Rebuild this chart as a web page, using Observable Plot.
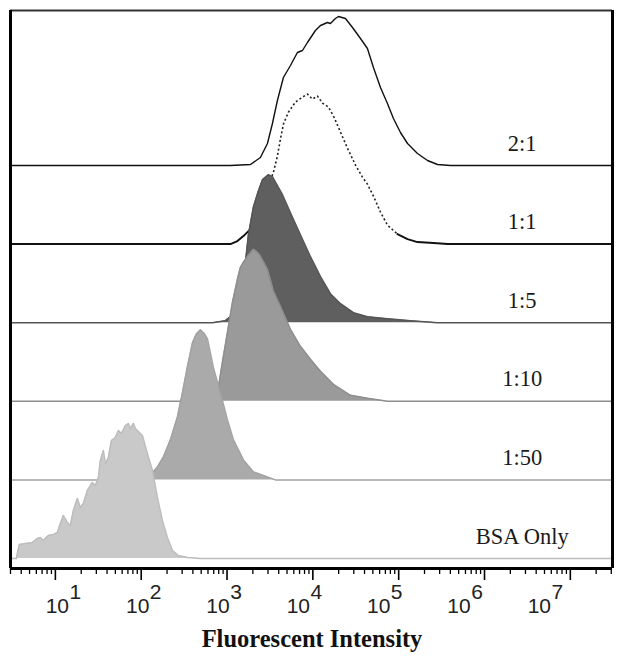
<!DOCTYPE html>
<html>
<head>
<meta charset="utf-8">
<script src="https://cdn.jsdelivr.net/npm/d3@7"></script>
<script src="https://cdn.jsdelivr.net/npm/@observablehq/plot@0.6"></script>
<style>
  body { margin: 0; background: #fff; }
  #wrap { position: relative; width: 624px; height: 663px; background: #fff; }
  #title { position: absolute; left: 0; top: 627px; width: 624px; text-align: center;
           font: bold 24.5px "Liberation Serif", "Times New Roman", serif; line-height: 24px; color: #111; }
</style>
</head>
<body>
<div id="wrap"><div id="chart"></div><div id="title">Fluorescent Intensity</div></div>
<script>
// ---- data: log10(fluorescent intensity) and event counts for each sample ----
const seriesNames = ["2:1", "1:1", "1:5", "1:10", "1:50", "BSA Only"];

const logX_2to1 = [0.476, 3.040, 3.273, 3.389, 3.471, 3.529, 3.587, 3.657, 3.739, 3.820, 3.879, 3.937, 4.030, 4.089, 4.170, 4.205, 4.263, 4.298, 4.380, 4.462, 4.555, 4.636, 4.706, 4.788, 4.869, 4.939, 5.021, 5.103, 5.219, 5.336, 5.452, 5.604, 7.491];
const count_2to1 = [0, 0, 1, 8, 22, 42, 65, 88, 100, 113, 115, 123, 135, 140, 143, 142, 147, 149, 147, 138, 127, 117, 98, 78, 62, 47, 33, 22, 12, 5, 1, 0, 0];

const logX_1to1 = [0.476, 3.040, 3.121, 3.191, 3.273, 3.343, 3.413, 3.483, 3.541, 3.587, 3.622, 3.657, 3.716, 3.797, 3.879, 3.937, 3.995, 4.054, 4.112, 4.182, 4.252, 4.322, 4.403, 4.497, 4.578, 4.636, 4.706, 4.788, 4.869, 4.986, 5.103, 5.219, 5.406, 5.569, 7.491];
const count_1to1 = [0, 0, 3, 8, 15, 27, 42, 58, 72, 88, 105, 120, 132, 142, 147, 150, 145, 148, 141, 137, 126, 112, 96, 79, 67, 60, 48, 32, 19, 10, 5, 2, 1, 0, 0];

const logX_1to5 = [0.476, 2.830, 2.981, 3.098, 3.168, 3.214, 3.249, 3.308, 3.366, 3.413, 3.483, 3.529, 3.587, 3.646, 3.739, 3.855, 3.972, 4.089, 4.205, 4.322, 4.473, 4.636, 4.869, 5.138, 5.452, 7.491];
const count_1to5 = [0, 0, 2, 10, 35, 60, 88, 116, 132, 143, 148, 146, 137, 128, 110, 88, 66, 46, 29, 19, 10, 6, 4, 2, 0, 0];

const logX_1to10 = [0.476, 2.748, 2.842, 2.888, 2.911, 2.946, 3.005, 3.063, 3.121, 3.156, 3.191, 3.249, 3.308, 3.354, 3.389, 3.471, 3.541, 3.622, 3.739, 3.855, 3.972, 4.089, 4.240, 4.438, 4.636, 4.869, 7.491];
const count_1to10 = [0, 0, 2, 8, 20, 39, 69, 99, 122, 134, 139, 146, 152, 149, 145, 132, 110, 95, 72, 55, 42, 30, 17, 6, 3, 0, 0];

const logX_1to50 = [0.476, 1.991, 2.107, 2.189, 2.259, 2.340, 2.422, 2.480, 2.538, 2.597, 2.643, 2.690, 2.737, 2.772, 2.842, 2.923, 3.005, 3.075, 3.191, 3.308, 3.471, 3.564, 7.491];
const count_1to50 = [0, 0, 5, 13, 23, 40, 63, 87, 113, 137, 146, 150, 146, 141, 112, 87, 60, 40, 20, 8, 3, 0, 0];

const logX_bsa = [0.476, 0.545, 0.580, 0.650, 0.732, 0.790, 0.825, 0.860, 0.918, 0.977, 1.023, 1.058, 1.093, 1.140, 1.175, 1.210, 1.256, 1.291, 1.326, 1.373, 1.431, 1.466, 1.501, 1.524, 1.559, 1.583, 1.618, 1.653, 1.699, 1.734, 1.769, 1.816, 1.851, 1.874, 1.909, 1.932, 2.014, 2.072, 2.131, 2.189, 2.247, 2.305, 2.364, 2.434, 2.538, 2.690, 7.491];
const count_bsa = [0, 0, 14, 15, 16, 20, 21, 18, 23, 24, 26, 35, 43, 36, 33, 48, 60, 51, 55, 68, 76, 73, 81, 98, 108, 95, 101, 118, 121, 128, 125, 133, 135, 130, 135, 130, 123, 105, 88, 61, 38, 21, 8, 3, 1, 0, 0];

const majorExponents = [1, 2, 3, 4, 5, 6, 7];

// ---- layout ----
const X_DOMAIN = [3, 3.1e7];
const ROW_BASE = 10, ROW_STEP = 78.6;      // stacked ridgeline offsets (y units)
const LABEL_X = 2.75e6;                    // where the sample names sit

const series = [
  {lx: logX_2to1, c: count_2to1},
  {lx: logX_1to1, c: count_1to1},
  {lx: logX_1to5, c: count_1to5},
  {lx: logX_1to10, c: count_1to10},
  {lx: logX_1to50, c: count_1to50},
  {lx: logX_bsa, c: count_bsa}
].map((s, i) => {
  const base = ROW_BASE + (seriesNames.length - 1 - i) * ROW_STEP;
  return {name: seriesNames[i], base,
          pts: s.lx.map((v, j) => ({lx: v, x: 10 ** v, y: base + s.c[j], base}))};
});

const minorTicks = [];
for (let k = 0; k <= 7; k++) for (let m = 2; m <= 9; m++) {
  const v = m * 10 ** k;
  if (v >= X_DOMAIN[0] && v <= X_DOMAIN[1]) minorTicks.push(v);
}
const majorTicks = majorExponents.map(k => 10 ** k);
// the printed "10^k" labels are spaced a little tighter than the ticks themselves
const labelPos = k => 10 ** (2.45 + (k - 2.45) * 0.936);

const fills = [null, null, "#5f5f5f", "#9a9a9a", "#aaaaaa", "#c9c9c9"];
const edges = [null, null, "#555555", "#8e8e8e", "#a2a2a2", "#bdbdbd"];

const marks = [];
// 2:1 solid line
marks.push(Plot.line(series[0].pts, {x: "x", y: "y", stroke: "#111", strokeWidth: 1.4}));
// 1:1: solid near baseline, dotted over the hump
marks.push(Plot.line(series[1].pts, {filter: d => d.lx <= 3.273, x: "x", y: "y", stroke: "#111", strokeWidth: 2}));
marks.push(Plot.line(series[1].pts, {filter: d => d.lx >= 4.986, x: "x", y: "y", stroke: "#111", strokeWidth: 2}));
marks.push(Plot.line(series[1].pts, {filter: d => d.lx >= 3.273 && d.lx <= 4.986, x: "x", y: "y",
  stroke: "#222", strokeWidth: 1.6, strokeDasharray: "2,2.4", strokeLinecap: "butt"}));
// filled histograms, lower rows on top
for (let i = 2; i < series.length; i++) {
  marks.push(Plot.areaY(series[i].pts, {x: "x", y1: "base", y2: "y", fill: fills[i]}));
  marks.push(Plot.line(series[i].pts, {x: "x", y: "y", stroke: edges[i], strokeWidth: 1.5}));
}
// sample labels
marks.push(Plot.text(series, {x: () => LABEL_X, y: "base", text: "name", dy: -15, lineAnchor: "bottom",
  textAnchor: "middle", fontSize: 22.5, fontFamily: "Liberation Serif, Times New Roman, serif", fill: "#1a1a1a"}));
// frame
marks.push(Plot.ruleY([558], {stroke: "#333", strokeWidth: 2}));
marks.push(Plot.ruleX([X_DOMAIN[0]], {stroke: "#000", strokeWidth: 3}));
marks.push(Plot.ruleX([X_DOMAIN[1]], {stroke: "#000", strokeWidth: 3}));
marks.push(Plot.ruleY([0], {stroke: "#000", strokeWidth: 3}));
// axis ticks
marks.push(Plot.axisX(minorTicks, {tickSize: 6, tickFormat: () => "", strokeWidth: 1.3, label: null}));
marks.push(Plot.axisX(majorTicks, {tickSize: 12, tickFormat: () => "", strokeWidth: 1.6, label: null}));
// tick labels 10^k
const sans = "Liberation Sans Narrow, Arial Narrow, Liberation Sans, Arial, sans-serif";
marks.push(Plot.text(majorExponents, {x: labelPos, frameAnchor: "bottom", text: () => "10", dx: -6, dy: 44,
  lineAnchor: "bottom", textAnchor: "middle", fontSize: 21, fontFamily: sans, fill: "#222"}));
marks.push(Plot.text(majorExponents, {x: labelPos, frameAnchor: "bottom", text: k => String(k), dx: 12, dy: 30,
  lineAnchor: "bottom", textAnchor: "middle", fontSize: 21, fontFamily: sans, fill: "#222"}));

const chart = Plot.plot({
  width: 624, height: 622,
  marginLeft: 10, marginRight: 12, marginTop: 10, marginBottom: 54,
  x: {type: "log", domain: X_DOMAIN, label: null},
  y: {domain: [0, 558], axis: null},
  style: {background: "white", overflow: "visible"},
  marks
});
document.getElementById("chart").appendChild(chart);
</script>
</body>
</html>
